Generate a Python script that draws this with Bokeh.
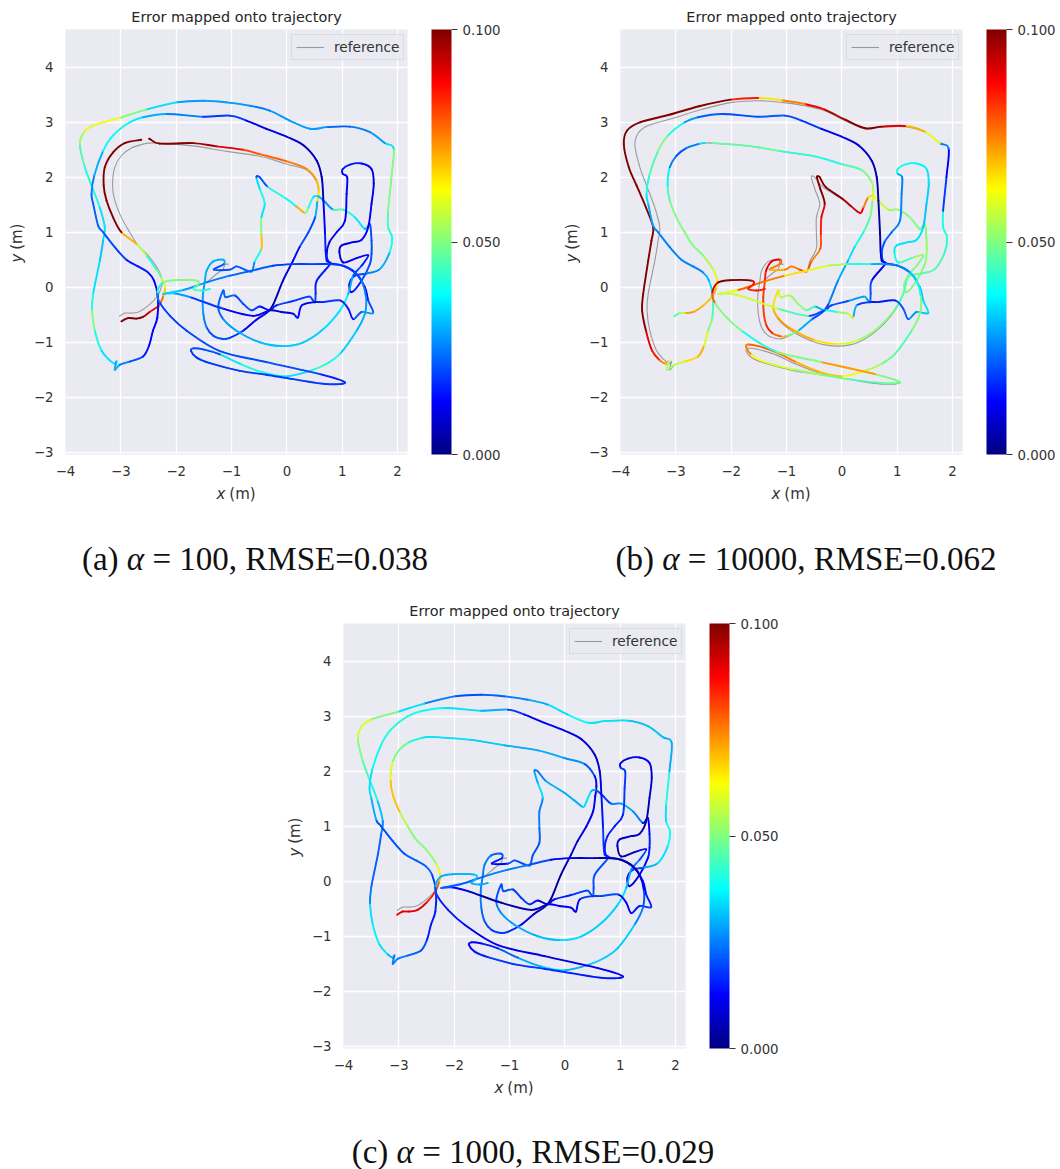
from bokeh.plotting import figure
from bokeh.embed import file_html
from bokeh.resources import INLINE
from bokeh.layouts import column, row
from bokeh.models import (ColorBar, ColumnDataSource, Div, FixedTicker, Label, Legend, LegendItem,
                          LinearColorMapper, NumeralTickFormatter, Spacer)
from bokeh.transform import transform
import math

nan = float("nan")

# ---- reference trajectory, section by section (m) ----
s1_x = [-3.03,-2.93,-2.81,-2.66,-2.49,-2.33,-2.27,-2.25,-2.33,-2.51,-2.69,-2.84,-2.99,-3.11,-3.15,-3.11,-2.99,-2.81,-2.57,-2.47,-2.34,-1.69,-1.09,-.49,-.01,.36,.54,.57]
s1_y = [-.53,-.47,-.47,-.44,-.32,-.15,0,.12,.33,.58,.76,1.0,1.27,1.58,1.85,2.18,2.39,2.53,2.61,2.62,2.62,2.57,2.47,2.38,2.24,2.13,1.91,1.73]
s2_x = [.55,.51,.39,.23,.11,-.07,-.25,-.37,-.55,-.79,-1.03,-1.15,-1.33,-1.45,-1.51,-1.52,-1.48,-1.45,-1.33,-1.15,-1.14,-1.32]
s2_y = [1.55,1.27,1.0,.73,.48,.12,-.32,-.47,-.59,-.79,-.92,-.94,-.88,-.73,-.48,-.18,.12,.30,.47,.50,.42,.32]
s3_x = [-1.03,-.91,-.76,-.63,-.58,-.46,-.46,-.46,-.40,-.49,-.55,-.49,-.34,-.01,.17,.33,.39,.48,.57,.69,.84,1.02,1.23,1.41,1.50,1.53,1.53,1.50,1.35,1.17,1.13,1.23,1.44,1.68,1.86,1.90,1.83,1.83,1.89,1.93]
s3_y = [.32,.38,.32,.29,.47,.70,.97,1.27,1.52,1.79,2.0,2.0,1.82,1.61,1.47,1.35,1.45,1.64,1.65,1.55,1.41,1.41,1.27,1.06,1.15,.85,.61,.42,.12,-.09,.06,.21,.25,.33,.64,.91,1.09,1.39,2.0,2.52]
s4_x = [1.77,1.50,1.14,.72,.42,.05,-.31,-.67,-1.09,-1.51,-1.99,-2.54,-3.02,-3.5,-3.68,-3.74,-3.65,-3.53,-3.38,-3.29,-3.32,-3.38,-3.5,-3.52,-3.47,-3.35,-3.20,-3.11,-3.08,-3.11,-3.02,-2.84,-2.60,-2.49,-2.42,-2.34,-2.33,-2.40,-2.51,-2.69,-2.90,-3.11,-3.32]
s4_y = [2.62,2.82,2.92,2.91,2.88,3.03,3.21,3.30,3.36,3.39,3.36,3.23,3.08,2.94,2.80,2.58,2.18,1.85,1.45,1.09,.85,.48,-.12,-.42,-.79,-1.15,-1.33,-1.39,-1.35,-1.50,-1.41,-1.35,-1.26,-1.06,-.79,-.55,-.18,.12,.27,.38,.50,.73,1.0]
s5_x = [-3.41,-3.5,-3.53,-3.48,-3.32,-3.14,-2.84,-2.60,-2.17,-1.51,-1.03,-.73,-.37,-.01,.30,.54,.63,.66,.69,.70,.72,.78,.54,.52,.51]
s5_y = [1.12,1.52,1.70,2.03,2.48,2.76,3.0,3.09,3.15,3.10,3.12,3.03,2.88,2.74,2.58,2.30,2.0,1.58,.97,.67,.48,.42,.12,-.12,-.27]
s6_x = [.45,.39,.11,-.19,-.31,-.49,-.64,-.79,-.94,-1.11,-1.15,-1.24,-1.15,-.91,-.49,-.07,.30,.66,.96,1.11,1.20,1.35,1.47,1.26,1.02,.95,.99,1.20,1.35,1.47,1.53,1.57,1.53,1.35,1.14,1.01,1.01,1.09,1.08,1.05,.90,.77,.72,.77]
s6_y = [-.21,-.17,-.25,-.33,-.42,-.35,-.42,-.30,-.15,-.18,-.06,-.36,-.58,-.79,-1.0,-1.07,-1.0,-.76,-.42,-.12,.21,.39,.58,.53,.45,.64,.76,.82,.86,1.09,1.52,1.88,2.15,2.25,2.23,2.15,2.06,2.0,1.70,1.21,1.0,.82,.61,.45]
s7_x = [1.02,1.23,1.41,1.47,1.56,1.35,1.20,1.11,.96,.66,.51,.27,.20,.11,-.10,-.31,-.61,-1.15,-1.75,-2.05,-2.23]
s7_y = [.39,.27,0,-.24,-.47,-.45,-.58,-.39,-.24,-.27,-.27,-.33,-.55,-.48,-.45,-.42,-.52,-.39,-.18,-.11,-.12]
s8_x = [-1.87,-1.45,-1.03,-.64,-.25,.11,.54,.78,1.02,1.23,1.35,1.43,1.41,1.26,.96,.72,.42,-.01,-.43,-.85,-1.21,-1.51,-1.69,-1.73,-1.63,-1.39,-.85,-.37,.11,.72,1.05,.60,-.37,-1.21,-1.81,-2.11,-2.30,-2.34,-2.23,-1.99,-1.63,-1.60,-1.69,-1.54,-1.39]
s8_y = [-.05,.09,.21,.30,.39,.42,.42,.42,.39,.27,.12,-.18,-.48,-.79,-1.21,-1.39,-1.52,-1.62,-1.55,-1.39,-1.22,-1.13,-1.11,-1.16,-1.28,-1.38,-1.52,-1.59,-1.67,-1.76,-1.73,-1.58,-1.36,-1.16,-.79,-.52,-.27,-.09,.09,.13,.12,.05,-.03,-.06,-.03]
tail_x = [-1.45,-1.27,-1.15,-1.12,-1.05]
tail_y = [.09,.24,.33,.42,.42]

# ---- estimate of panel (a) where it leaves the reference ----
s1_ax = [-2.99,-2.87,-2.72,-2.60,-2.48,-2.31,-2.23,-2.20,-2.27,-2.36,-2.54,-2.72,-2.99,-3.14,-3.26,-3.31,-3.29,-3.14,-2.93,-2.63,-2.49,-2.30,-1.69,-1.27,-.79,-.49,-.01,.36,.54,.58]
s1_ay = [-.62,-.56,-.57,-.54,-.45,-.33,-.15,0,.18,.33,.58,.79,1.0,1.27,1.58,1.85,2.18,2.45,2.62,2.68,2.70,2.61,2.62,2.56,2.50,2.42,2.29,2.15,1.94,1.73]

# ---- offsets of the estimate from the reference, panels (b), (c) ----
s2_bdx = [0,0,0,0,0,0,0,0,0,0,.02,.04,.07,.09,.1,.1,.09,.08,.06,.04,.02,.02]
s2_bdy = [0,0,0,0,0,0,0,0,0,0,.03,.05,.05,.03,0,0,0,0,0,0,0,0]
s3_bdx = [0,0,0,0,.03,.07,.08,.09,.09,.1,.1,.09,.05,.02,0,0,0,0,0,0,0,0,0,0,0,0,0,0,0,0,0,0,0,0,0,0,0,0,0,0]
s4_bdx = [0,0,0,0,0,0,0,0,0,0,-.02,-.04,-.08,-.14,-.2,-.2,-.2,-.18,-.16,-.12,-.12,-.12,-.09,-.09,-.07,-.08,-.09,-.07,-.05,-.05,0,0,0,0,0,0,0,0,0,0,0,0,0]
s4_bdy = [0,.01,.01,.01,.01,.02,.02,.03,.04,.05,.05,.06,.06,.06,.05,.02,0,0,0,0,0,0,0,0,0,0,0,0,0,0,0,0,0,0,0,0,0,0,0,0,0,0,0]
s6_bdy = [0,0,0,0,0,0,0,0,0,0,0,0,.02,.03,.04,.04,.04,.03,.02,0,0,0,0,0,0,0,0,0,0,0,0,0,0,0,0,0,0,0,0,0,0,0,0,0]
s8_bdy = [0,0,0,0,0,0,0,0,0,0,0,0,0,0,0,0,0,0,.02,.04,.05,.06,.07,.08,.05,.02,.02,0,0,.02,.01,0,0,0,0,0,0,0,0,0,0,0,0,0,0]
s1_cdy = [-.08,-.08,-.08,-.08,-.06,-.02,0,0,0,0,0,0,0,0,0,0,0,0,0,0,0,0,0,0,0,0,0,0]

# ---- error along the trajectory (m) ----
s1_ea = [.1,.1,.1,.095,.088,.078,.068,.058,.048,.042,.055,.07,.1,.1,.1,.1,.1,.1,.1,nan,.1,.1,.097,.09,.08,.078,.075,.072,.068,.065]
s1_eb = [.045,.055,.072,.07,.068,.07,.065,.06,.055,.05,.05,.05,.05,.045,.037,.025,.02,.025,.035,nan,.047,.047,.042,.04,.045,.05,.055,.058]
s1_ec = [.09,.09,.09,.09,.085,.078,.068,.06,.052,.05,.05,.055,.068,.068,.06,.05,.048,.04,.035,.035,.035,.033,.03,.03,.027,.02,.013,.01]
s2_ea = [.03,.02,.02,.012,.01,.005,.005,.01,.012,.018,.02,.02,.02,.025,.028,.028,.03,.03,.03,.03,.02,.02]
s2_eb = [.05,.045,.04,.035,.03,.025,.018,.02,.03,.05,.07,.078,.085,.082,.082,.082,.085,.09,.09,.078,.075,.07]
s2_ec = [.012,.01,.01,.008,.005,.003,.002,.005,.01,.015,.018,.018,.02,.022,.025,.025,.025,.025,.022,.02,.015,.012]
s3_ea = [.02,.022,.022,.025,.04,.068,.05,.035,.04,.035,.02,.02,.04,.038,.07,.05,.04,.035,.03,.028,.045,.04,.035,.03,.02,.02,.02,.02,.015,.012,.015,.02,.025,.03,.04,.04,.045,.05,.05,.035]
s3_eb = [.075,.075,.08,.08,.075,.08,.085,.09,.1,.1,.1,.1,.1,.095,.092,.088,.075,.065,.062,.058,.052,.05,.05,.046,.05,.053,.052,.05,.05,.05,.05,.048,.046,.045,.042,.042,.04,.018,.012,.025]
s3_ec = [.02,.02,.02,.02,.02,.022,.025,.025,.035,.03,.025,.025,.03,.03,.03,.035,.035,.03,.02,.018,.025,.03,.025,.012,.012,.015,.015,.012,.01,.008,.01,.02,.03,.035,.038,.04,.035,.04,.03,.03]
s4_ea = [.028,.025,.022,.028,.028,.028,.025,.028,.028,.028,.035,.05,.062,.06,.052,.045,.04,.04,.035,.035,.032,.035,.04,.05,.04,.035,.035,.033,.03,.03,.025,.02,.015,.012,.012,.012,.012,.012,.015,.015,.018,.02,.022]
s4_eb = [.06,.07,.09,.1,.1,.095,.088,.075,.065,.085,.1,.1,.1,.1,.1,.1,.1,.1,.1,.1,.1,.1,.1,.1,.09,.085,.075,.07,.055,.052,.058,.065,.07,.06,.05,.045,.035,.03,.025,.025,.025,.025,.025]
s4_ec = [.032,.032,.035,.035,.038,.035,.03,.025,.022,.02,.025,.035,.05,.06,.058,.05,.045,.04,.032,.025,.022,.022,.025,.035,.037,.035,.03,.028,.025,.025,.025,.022,.02,.015,.015,.015,.018,.022,.022,.022,.02,.02,.02]
s5_ea = [.022,.022,.025,.03,.038,.038,.036,.03,.025,.018,.018,.012,.01,.008,.006,.005,.006,.012,.016,.015,.015,.015,.015,.018,.018]
s5_eb = [.03,.035,.04,.045,.05,.04,.028,.022,.02,.022,.02,.018,.012,.01,.008,.005,.005,.003,.005,.005,.005,.012,.02,.022,.025]
s5_ec = [.03,.035,.035,.038,.04,.04,.04,.038,.035,.03,.018,.012,.012,.01,.008,.008,.01,.014,.018,.018,.018,.02,.02,.02,.02]
s6_ea = [.02,.018,.018,.015,.012,.018,.02,.02,.022,.022,.022,.022,.028,.03,.032,.033,.033,.035,.037,.03,.02,.015,.012,.012,.01,.008,.01,.012,.012,.012,.01,.01,.012,.015,.015,.015,.012,.012,.012,.012,.012,.012,.015,.015]
s6_eb = [.03,.028,.02,.018,.03,.045,.05,.052,.055,.058,.065,.07,.072,.07,.065,.058,.052,.05,.046,.046,.05,.05,.052,.045,.04,.036,.035,.035,.035,.032,.033,.035,.037,.038,.04,.04,.03,.025,.025,.025,.022,.02,.015,.012]
s6_ec = [.02,.018,.016,.012,.005,.015,.018,.018,.02,.02,.02,.025,.028,.03,.032,.035,.033,.033,.035,.03,.025,.02,.012,.005,.005,.008,.008,.006,.005,.005,.008,.01,.012,.012,.008,.012,.018,.018,.018,.015,.015,.015,.015,.015]
s7_ea = [.012,.012,.012,.02,.028,.022,.015,.015,.018,.015,.01,.012,.015,.01,.008,.01,.012,.018,.028,.035,.033]
s7_eb = [.028,.032,.032,.035,.032,.028,.022,.02,.015,.015,.018,.03,.06,.052,.04,.02,.045,.058,.058,.05,.06]
s7_ec = [.005,.008,.012,.015,.018,.015,.012,.012,.02,.018,.018,.012,.01,.012,.012,.006,.004,.005,.012,.02,.022]
s8_ea = [.028,.025,.022,.022,.018,.018,.018,.018,.018,.02,.025,.028,.03,.033,.04,.042,.035,.038,.04,.035,.02,.02,.02,.018,.018,.018,.018,.018,.018,.018,.015,.02,.02,.02,.018,.018,.025,.04,.05,.05,.05,.045,.045,.04,.04]
s8_eb = [.078,.075,.065,.06,.055,.04,.03,.025,.025,.032,.04,.05,.05,.045,.048,.055,.062,.068,.07,.075,.078,.078,.075,.075,.062,.058,.052,.048,.045,.048,.05,.072,.05,.04,.05,.05,.078,.09,.1,.1,.088,.085,.085,.085,.08]
s8_ec = [.022,.025,.025,.02,.012,.008,.004,.004,.005,.008,.012,.02,.025,.033,.033,.033,.03,.035,.03,.022,.015,.012,.012,.012,.015,.018,.018,.017,.015,.015,.012,.01,.01,.012,.015,.015,.02,.03,.03,.03,.033,.03,.03,.03,.03]

x_ticks = [-4, -3, -2, -1, 0, 1, 2]
y_ticks = [-3, -2, -1, 0, 1, 2, 3, 4]
cb_ticks = [0.0, 0.05, 0.1]
title_text = "Error mapped onto trajectory"
captions = [("(a)", "100", "0.038"), ("(b)", "10000", "0.062"), ("(c)", "1000", "0.029")]


def jet(n=256):
    out = []
    for i in range(n):
        t = i / (n - 1)
        c = [min(1, max(0, 1.5 - abs(4 * t - k))) for k in (3, 2, 1)]
        out.append("#%02x%02x%02x" % tuple(int(round(255 * v)) for v in c))
    return out


PALETTE = jet()


def add(a, b=None):
    return a if b is None else [u + v for u, v in zip(a, b)]


ref_xs = [s1_x, s2_x, s3_x, s4_x, s5_x, s6_x, s7_x, s8_x]
ref_ys = [s1_y, s2_y, s3_y, s4_y, s5_y, s6_y, s7_y, s8_y]


def concat(parts):
    out = []
    for part in parts:
        out.extend(part)
    return out


def check(parts_a, parts_b):
    for i, (u, v) in enumerate(zip(parts_a, parts_b)):
        assert len(u) == len(v), (i, len(u), len(v))


def curve_columns(xv, yv):
    """Draw the polyline through the read points as one smooth cubic per span."""
    n = len(xv)
    cols = dict(x0=[], y0=[], x1=[], y1=[], cx0=[], cy0=[], cx1=[], cy1=[])
    for i in range(n - 1):
        a, d = max(i - 1, 0), min(i + 2, n - 1)
        cols["x0"].append(xv[i]); cols["y0"].append(yv[i])
        cols["x1"].append(xv[i + 1]); cols["y1"].append(yv[i + 1])
        cols["cx0"].append(xv[i] + (xv[i + 1] - xv[a]) / 6)
        cols["cy0"].append(yv[i] + (yv[i + 1] - yv[a]) / 6)
        cols["cx1"].append(xv[i + 1] - (xv[d] - xv[i]) / 6)
        cols["cy1"].append(yv[i + 1] - (yv[d] - yv[i]) / 6)
    return cols


panel_a = (
    [s1_ax] + ref_xs[1:],
    [s1_ay] + ref_ys[1:],
    [s1_ea, s2_ea, s3_ea, s4_ea, s5_ea, s6_ea, s7_ea, s8_ea],
)
panel_b = (
    [s1_x, add(s2_x, s2_bdx), add(s3_x, s3_bdx), add(s4_x, s4_bdx), s5_x, s6_x, s7_x, s8_x],
    [s1_y, add(s2_y, s2_bdy), s3_y, add(s4_y, s4_bdy), s5_y, add(s6_y, s6_bdy), s7_y, add(s8_y, s8_bdy)],
    [s1_eb, s2_eb, s3_eb, s4_eb, s5_eb, s6_eb, s7_eb, s8_eb],
)
panel_c = (
    ref_xs,
    [add(s1_y, s1_cdy)] + ref_ys[1:],
    [s1_ec, s2_ec, s3_ec, s4_ec, s5_ec, s6_ec, s7_ec, s8_ec],
)
for pn in (panel_a, panel_b, panel_c):
    check(pn[0], pn[2])
    check(pn[1], pn[2])

REF_X = concat(ref_xs)
REF_Y = concat(ref_ys)
TXT = "#333333"


def make_panel(parts, right_border, top_border):
    ex, ey, ee = concat(parts[0]), concat(parts[1]), concat(parts[2])
    p = figure(frame_width=342, frame_height=425, x_range=(-4.0, 2.18), y_range=(-3.04, 4.685),
               output_backend="svg", toolbar_location=None, margin=(0, 0, 0, 0),
               styles={"transform": "translateX(-6px)"},
               min_border_left=66, min_border_top=top_border, min_border_bottom=46, min_border_right=right_border,
               background_fill_color="#eaeaf2", border_fill_color="white")
    p.title.text = title_text
    p.title.align = "center"
    p.title.text_font = "DejaVu Sans"
    p.title.text_font_size = "14.4px"
    p.title.text_font_style = "normal"
    p.title.text_color = "#262626"
    p.title.standoff = 10
    p.outline_line_color = None
    for ax, ticks in ((p.xaxis, x_ticks), (p.yaxis, y_ticks)):
        ax.ticker = FixedTicker(ticks=ticks)
        ax.major_label_overrides = {t: str(t).replace("-", "\u2212") for t in ticks}
        ax.axis_line_color = None
        ax.major_tick_line_color = None
        ax.minor_tick_line_color = None
        ax.major_label_text_font = "DejaVu Sans"
        ax.major_label_text_font_size = "13.3px"
        ax.major_label_text_color = TXT
    p.xaxis.major_label_standoff = 5
    p.yaxis.major_label_standoff = 6
    p.grid.grid_line_color = "white"
    p.grid.grid_line_width = 1.3
    p.xgrid.ticker = FixedTicker(ticks=x_ticks)
    p.ygrid.ticker = FixedTicker(ticks=y_ticks)

    ref_src = ColumnDataSource(curve_columns(REF_X, REF_Y))
    ref_style = dict(line_color="#7f7f7f", line_width=1.1, line_alpha=0.75)
    p.bezier("x0", "y0", "x1", "y1", "cx0", "cy0", "cx1", "cy1", source=ref_src, **ref_style)
    r = p.line(tail_x, tail_y, **ref_style)

    mapper = LinearColorMapper(palette=PALETTE, low=cb_ticks[0], high=cb_ticks[-1], nan_color="rgba(0,0,0,0)")
    cols = curve_columns(ex, ey)
    cols["e"] = ee[:-1]
    src = ColumnDataSource(cols)
    p.bezier("x0", "y0", "x1", "y1", "cx0", "cy0", "cx1", "cy1", source=src,
             line_color=transform("e", mapper), line_width=1.9, line_cap="round")

    legend = Legend(items=[LegendItem(label="reference", renderers=[r])], location=(226, 394), margin=0,
                    background_fill_color="#eaeaf2", background_fill_alpha=0.8, border_line_color="#cccccc",
                    label_text_font="DejaVu Sans", label_text_font_size="13.7px", label_text_color=TXT,
                    glyph_width=28, glyph_height=10, padding=4, label_standoff=10, spacing=0)
    p.add_layout(legend)

    cb = ColorBar(color_mapper=mapper, ticker=FixedTicker(ticks=cb_ticks), formatter=NumeralTickFormatter(format="0.000"),
                  width=20, height=425, margin=0, padding=0, location=(24, 0),
                  major_tick_in=0, major_tick_out=6, major_tick_line_color=TXT, major_tick_line_width=1,
                  bar_line_color=None, label_standoff=5, major_label_text_font="DejaVu Sans",
                  major_label_text_font_size="13.3px", major_label_text_color=TXT, minor_tick_line_color=None)
    p.add_layout(cb, "right")

    style = dict(text_font="DejaVu Sans", text_font_size="15px", text_color=TXT)
    p.add_layout(Label(x=-1.27, y=-3.92, text="x", text_font_style="italic", **style), "below")
    p.add_layout(Label(x=-1.04, y=-3.92, text="(m)", **style), "below")
    p.add_layout(Label(x=-4.71, y=.45, text="y", angle=math.pi / 2, text_font_style="italic", **style), "left")
    p.add_layout(Label(x=-4.71, y=.68, text="(m)", angle=math.pi / 2, **style), "left")
    return p


def caption(c, width, margin):
    html = f"{c[0]} <i>\u03b1</i> = {c[1]}, RMSE={c[2]}"
    return Div(text=html, width=width, height=30, margin=margin,
               styles={"font-family": "'Liberation Serif'", "font-size": "33px", "color": "#111111",
                       "text-align": "center", "line-height": "30px"})


p1 = make_panel(panel_a, 142, 29)
p2 = make_panel(panel_b, 88, 29)
p3 = make_panel(panel_c, 88, 23)

page = column(
    row(p1, p2, spacing=0),
    row(caption(captions[0], 494, (30, 54, 21, 8)), caption(captions[1], 484, (30, 0, 21, 8)), spacing=0),
    row(Spacer(width=278, height=10), p3, spacing=0),
    caption(captions[2], 1034, (29, 0, 0, 16)),
    spacing=0,
)
open("out.html", "w").write(file_html(page, INLINE))
